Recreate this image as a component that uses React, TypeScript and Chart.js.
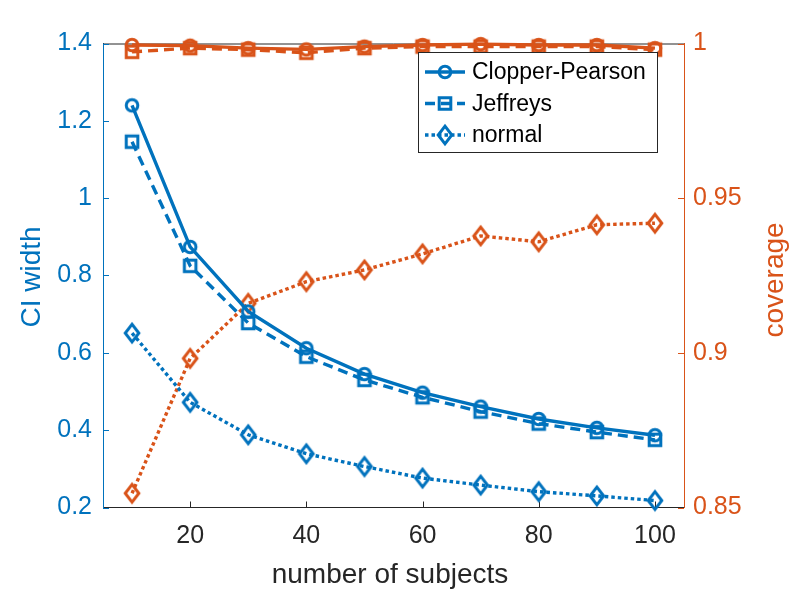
import React, { useEffect, useRef } from "react";
import { Chart, registerables } from "chart.js";

Chart.register(...registerables);

const subjects = [10, 20, 30, 40, 50, 60, 70, 80, 90, 100];
const cpWidth = [1.24, 0.874, 0.707, 0.612, 0.545, 0.497, 0.461, 0.429, 0.406, 0.387];
const jeffWidth = [1.146, 0.825, 0.677, 0.59, 0.53, 0.485, 0.448, 0.417, 0.395, 0.375];
const normWidth = [0.651, 0.472, 0.388, 0.339, 0.306, 0.276, 0.258, 0.241, 0.23, 0.218];
const cpCov = [0.9995, 0.9993, 0.9985, 0.9981, 0.999, 0.9995, 0.9998, 0.9995, 0.9995, 0.9985];
const jeffCov = [0.9973, 0.9985, 0.998, 0.997, 0.9985, 0.999, 0.999, 0.999, 0.999, 0.998];
const normCov = [0.8546, 0.8982, 0.916, 0.923, 0.9268, 0.932, 0.9378, 0.9359, 0.9414, 0.9419];

const xTicks = [20, 40, 60, 80, 100];
const yTicks = [0.2, 0.4, 0.6, 0.8, 1, 1.2, 1.4];
const y1Ticks = [0.85, 0.9, 0.95, 1];
const legendLabels = ["Clopper-Pearson", "Jeffreys", "normal"];

const BLUE = "#0072BD";
const ORANGE = "#D95319";
const DARK = "#262626";
const FONT = "'Liberation Sans', Arial, Helvetica, sans-serif";

type Shape = "circle" | "square" | "diamond";

function drawMarkerPath(ctx: CanvasRenderingContext2D, shape: Shape, cx: number, cy: number) {
  ctx.beginPath();
  if (shape === "circle") {
    ctx.arc(cx, cy, 5.8, 0, Math.PI * 2);
  } else if (shape === "square") {
    ctx.rect(cx - 5.8, cy - 5.8, 11.6, 11.6);
  } else {
    ctx.moveTo(cx, cy - 8.8);
    ctx.lineTo(cx + 6.8, cy);
    ctx.lineTo(cx, cy + 8.8);
    ctx.lineTo(cx - 6.8, cy);
    ctx.closePath();
  }
}

function makeMarker(shape: Shape, color: string): HTMLCanvasElement {
  const c = document.createElement("canvas");
  c.width = 24;
  c.height = 24;
  const ctx = c.getContext("2d")!;
  ctx.strokeStyle = color;
  ctx.lineWidth = 3;
  drawMarkerPath(ctx, shape, 12, 12);
  ctx.stroke();
  return c;
}

const toXY = (ys: number[]) => subjects.map((x, i) => ({ x, y: ys[i] }));

export default function App() {
  const ref = useRef<HTMLCanvasElement | null>(null);

  useEffect(() => {
    document.body.style.margin = "0";
    const canvas = ref.current!;
    const styles = [
      { dash: [] as number[], shape: "circle" as Shape },
      { dash: [10, 6], shape: "square" as Shape },
      { dash: [3.5, 3], shape: "diamond" as Shape },
    ];

    const mk = (label: string, data: number[], color: string, idx: number, axis: string) => ({
      label,
      data: toXY(data),
      yAxisID: axis,
      borderColor: color,
      backgroundColor: color,
      borderWidth: 3.4,
      borderDash: styles[idx].dash,
      pointStyle: makeMarker(styles[idx].shape, color),
      pointRadius: 6,
      pointHoverRadius: 6,
      tension: 0,
      fill: false,
      clip: false as any,
    });

    const overlay = {
      id: "matlabDecor",
      beforeDatasetsDraw(chart: any) {
        const { ctx, chartArea: a, scales } = chart;
        ctx.save();
        ctx.lineWidth = 1;
        ctx.strokeStyle = DARK;
        ctx.beginPath();
        ctx.moveTo(a.left, a.top + 0.5);
        ctx.lineTo(a.right, a.top + 0.5);
        ctx.stroke();
        xTicks.forEach((v) => {
          const px = Math.round(scales.x.getPixelForValue(v)) + 0.5;
          ctx.beginPath();
          ctx.moveTo(px, a.bottom);
          ctx.lineTo(px, a.bottom - 6);
          ctx.stroke();
        });
        ctx.strokeStyle = BLUE;
        yTicks.forEach((v) => {
          const py = Math.round(scales.y.getPixelForValue(v)) + 0.5;
          ctx.beginPath();
          ctx.moveTo(a.left, py);
          ctx.lineTo(a.left + 6, py);
          ctx.stroke();
        });
        ctx.strokeStyle = ORANGE;
        y1Ticks.forEach((v) => {
          const py = Math.round(scales.y1.getPixelForValue(v)) + 0.5;
          ctx.beginPath();
          ctx.moveTo(a.right, py);
          ctx.lineTo(a.right - 6, py);
          ctx.stroke();
        });
        ctx.restore();
      },
      afterDraw(chart: any) {
        const { ctx } = chart;
        ctx.save();
        ctx.font = `28px ${FONT}`;
        ctx.textAlign = "center";
        ctx.textBaseline = "middle";
        ctx.fillStyle = DARK;
        ctx.fillText("number of subjects", 390, 575);
        ctx.save();
        ctx.translate(32, 277);
        ctx.rotate(-Math.PI / 2);
        ctx.fillStyle = BLUE;
        ctx.fillText("CI width", 0, 0);
        ctx.restore();
        ctx.save();
        ctx.translate(775, 280);
        ctx.rotate(-Math.PI / 2);
        ctx.fillStyle = ORANGE;
        ctx.fillText("coverage", 0, 0);
        ctx.restore();

        const bx = 418.5, by = 52.5, bw = 239, bh = 100;
        ctx.fillStyle = "#ffffff";
        ctx.fillRect(bx, by, bw, bh);
        ctx.strokeStyle = DARK;
        ctx.lineWidth = 1;
        ctx.strokeRect(bx, by, bw, bh);
        const rows = [72, 103.5, 135];
        legendLabels.forEach((lab, i) => {
          const y = rows[i];
          ctx.strokeStyle = BLUE;
          ctx.lineWidth = 3.4;
          ctx.setLineDash(styles[i].dash);
          ctx.beginPath();
          ctx.moveTo(425, y);
          ctx.lineTo(465, y);
          ctx.stroke();
          ctx.setLineDash([]);
          ctx.lineWidth = 3;
          drawMarkerPath(ctx, styles[i].shape, 445, y);
          ctx.stroke();
          ctx.fillStyle = "#000000";
          ctx.font = `23px ${FONT}`;
          ctx.textAlign = "left";
          ctx.textBaseline = "middle";
          ctx.fillText(lab, 472, y + 1);
        });
        ctx.restore();
      },
    };

    const fmt = (v: number) => String(Number(v.toFixed(3)));

    const chart = new Chart(canvas, {
      type: "line",
      data: {
        datasets: [
          mk(legendLabels[0], cpWidth, BLUE, 0, "y"),
          mk(legendLabels[1], jeffWidth, BLUE, 1, "y"),
          mk(legendLabels[2], normWidth, BLUE, 2, "y"),
          mk("cp coverage", cpCov, ORANGE, 0, "y1"),
          mk("jeffreys coverage", jeffCov, ORANGE, 1, "y1"),
          mk("normal coverage", normCov, ORANGE, 2, "y1"),
        ] as any,
      },
      options: {
        animation: false,
        responsive: false,
        devicePixelRatio: 1,
        layout: { padding: { top: 43.5, left: 0, right: 0, bottom: 0 } },
        plugins: { legend: { display: false }, tooltip: { enabled: false } },
        events: [],
        scales: {
          x: {
            type: "linear",
            min: 5,
            max: 105,
            afterBuildTicks: (s: any) => {
              s.ticks = xTicks.map((v) => ({ value: v }));
            },
            afterFit: (s: any) => {
              s.height = 84.5;
            },
            grid: { display: false, drawTicks: false },
            border: { display: true, color: DARK, width: 1 },
            ticks: {
              padding: 14,
              color: DARK,
              font: { size: 25, family: FONT },
              maxRotation: 0,
              autoSkip: false,
              callback: (v: any) => fmt(Number(v)),
            },
          },
          y: {
            type: "linear",
            position: "left",
            min: 0.2,
            max: 1.4,
            afterBuildTicks: (s: any) => {
              s.ticks = yTicks.map((v) => ({ value: v }));
            },
            afterFit: (s: any) => {
              s.width = 103;
            },
            grid: { display: false, drawTicks: false },
            border: { display: true, color: BLUE, width: 1 },
            ticks: {
              padding: 11,
              color: BLUE,
              font: { size: 25, family: FONT },
              autoSkip: false,
              callback: (v: any) => fmt(Number(v)),
            },
          },
          y1: {
            type: "linear",
            position: "right",
            min: 0.85,
            max: 1,
            afterBuildTicks: (s: any) => {
              s.ticks = y1Ticks.map((v) => ({ value: v }));
            },
            afterFit: (s: any) => {
              s.width = 105;
            },
            grid: { display: false, drawTicks: false },
            border: { display: true, color: ORANGE, width: 1 },
            ticks: {
              padding: 9,
              color: ORANGE,
              font: { size: 25, family: FONT },
              autoSkip: false,
              callback: (v: any) => fmt(Number(v)),
            },
          },
        },
      } as any,
      plugins: [overlay],
    });

    return () => chart.destroy();
  }, []);

  return (
    <div style={{ position: "absolute", left: 0, top: 0, width: 789, height: 592, background: "#fff" }}>
      <canvas ref={ref} width={789} height={592} style={{ width: 789, height: 592, display: "block" }} />
    </div>
  );
}
